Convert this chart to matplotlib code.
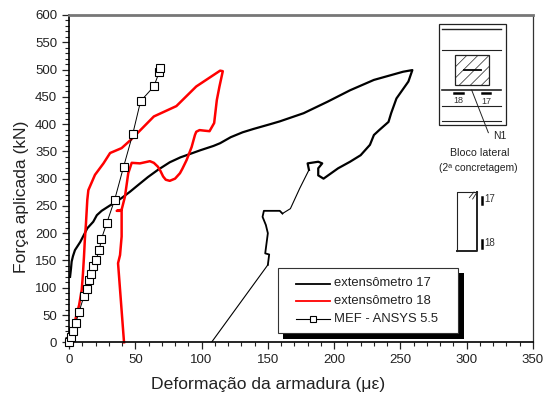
#!/usr/bin/env python3
"""Force x strain curves for gauges 17 and 18 with the FEM result."""
import matplotlib
matplotlib.use("Agg")
import matplotlib.pyplot as plt
from matplotlib.lines import Line2D
from matplotlib.patches import Rectangle
from matplotlib.ticker import MultipleLocator

plt.rcParams['font.family'] = ['Liberation Sans', 'DejaVu Sans']
plt.rcParams['hatch.linewidth'] = 0.5

W, H = 546, 399

# extensometro 17: loading, unloading
ext17_x = [0.8, 1.5, 2, 3, 4.5, 8.5, 13.8, 18.3, 21, 24.6, 31, 34, 40, 46, 52, 59.6, 67, 76, 84, 91,
           99, 109, 114, 122, 131, 139, 152, 159, 177, 195, 212, 230, 252, 259, 256, 247, 243, 241,
           234, 230, 227, 220, 212, 203, 192, 188, 188, 191, 188, 180, 181]
ext17_y = [120, 135, 148, 158, 169, 184, 209, 221, 233, 241, 251, 255, 265, 276, 288, 303, 316, 330,
           339, 345, 352, 360, 365, 376, 385, 391, 400, 405, 420, 441, 462, 481, 496, 499, 478, 447,
           420, 404, 389, 380, 362, 343, 331, 319, 300, 306, 319, 328, 331, 328, 316]
ext17_mid_x = [181, 174, 167, 161]
ext17_mid_y = [316, 282, 245, 236]
ext17_low_x = [161, 159, 147, 146, 148.5, 150, 148, 151, 150]
ext17_low_y = [236, 241, 241, 230, 215, 200, 163, 161, 142]
ext17_end_x = [150, 107.5]
ext17_end_y = [142, 0]

# extensometro 18
ext18_x = [3, 5, 7.6, 9.6, 10.5, 11.3, 12, 12.8, 13.8, 14.6, 19.6, 26, 31, 39.7, 47, 64, 81, 96, 114,
           116, 113.5, 111.5, 109.5, 106, 102, 98.5, 96, 95, 92.5, 88.7, 85.5, 83.7, 80, 76, 73, 71,
           69, 67, 64, 61, 53.5, 47.3, 44.7, 42.2, 39.7, 36, 39.7, 39.7, 38.5, 37, 41.5]
ext18_y = [0, 44, 68, 96, 125, 157, 190, 218, 261, 279, 307, 328, 347, 356, 372, 414, 433, 469, 498,
           497, 469, 444, 402, 387, 388, 389, 386, 380, 358, 334, 318, 310, 300, 296, 298, 304, 314,
           322, 329, 332, 328, 329, 310, 267, 243, 241, 241, 194, 160, 145, 0]

# MEF - ANSYS 5.5
mef_x = [0, 1.5, 3, 5, 7.5, 11.3, 13.3, 15.3, 16.3, 18.3, 20.3, 22.9, 24.4, 28.4, 34.4, 41.2, 48,
         54, 64, 68, 69]
mef_y = [0, 10, 20, 35, 55, 85, 97, 115, 125, 139, 151, 169, 189, 218, 261, 322, 381, 442, 469,
         495, 503]

x_ticks = [0, 50, 100, 150, 200, 250, 300, 350]
y_ticks = [0, 50, 100, 150, 200, 250, 300, 350, 400, 450, 500, 550, 600]

fig = plt.figure(figsize=(W / 100, H / 100), dpi=100)
ax = fig.add_axes([69 / W, 1 - 342.3 / H, (533 - 69) / W, (342.3 - 15) / H])

ax.plot(ext17_x, ext17_y, color='black', lw=1.6)
ax.plot(ext17_mid_x, ext17_mid_y, color='black', lw=0.8)
ax.plot(ext17_low_x, ext17_low_y, color='black', lw=1.3)
ax.plot(ext17_end_x, ext17_end_y, color='black', lw=0.8)
ax.plot(ext18_x, ext18_y, color='red', lw=1.8, clip_on=False)
ax.plot(mef_x, mef_y, color='black', lw=0.7, marker='s', ms=5.4, mfc='white', mec='black',
        mew=0.8, clip_on=False, zorder=5)

ax.set_xlim(0, 350)
ax.set_ylim(0, 600)
ax.set_xticks(x_ticks)
ax.set_yticks(y_ticks)
ax.xaxis.set_minor_locator(MultipleLocator(10))
ax.yaxis.set_minor_locator(MultipleLocator(10))
ax.tick_params(which='major', length=5, width=0.9, labelsize=9.5, pad=3.5, colors='#222222')
ax.tick_params(which='minor', length=3, width=0.8, color='#222222')
ax.set_xlabel('Deformação da armadura (με)', fontsize=12.6, color='#222222')
ax.set_ylabel('Força aplicada (kN)', fontsize=12.6, color='#222222')
ax.xaxis.set_label_coords((268 - 69) / 464, -(384.5 - 342.3) / 327.3, transform=ax.transAxes)
ax.yaxis.set_label_coords(-(69 - 22) / 464, (342.3 - 197) / 327.3, transform=ax.transAxes)
ax.xaxis.label.set_va('center')
ax.yaxis.label.set_va('center')

ax.spines['top'].set_color('#777777')
ax.spines['top'].set_linewidth(2.0)
ax.spines['right'].set_color('#333333')
ax.spines['right'].set_linewidth(0.9)
ax.spines['left'].set_linewidth(1.2)
ax.spines['bottom'].set_linewidth(1.2)

# overlay in image pixels for legend box and the sketches
ov = fig.add_axes([0, 0, 1, 1])
ov.set_xlim(0, W)
ov.set_ylim(H, 0)
ov.axis('off')
ov.patch.set_alpha(0)

# legend
ov.add_patch(Rectangle((283, 273), 181, 66, fc='black', ec='none'))
ov.add_patch(Rectangle((278.3, 268), 179.7, 65, fc='white', ec='#333333', lw=0.8))
legend_rows = [
    (283.5, 'extensômetro 17', dict(color='black', lw=1.3)),
    (301, 'extensômetro 18', dict(color='red', lw=1.3)),
    (319, 'MEF - ANSYS 5.5', dict(color='black', lw=0.8, marker='s', ms=4.6, mfc='white',
                                  mec='black', mew=0.8)),
]
for row_y, label, style in legend_rows:
    if 'marker' in style:
        ov.add_line(Line2D([296, 330], [row_y, row_y], color=style['color'], lw=style['lw']))
        ov.add_line(Line2D([313], [row_y], **style))
    else:
        ov.add_line(Line2D([296, 330], [row_y, row_y], **style))
    ov.text(333.5, row_y, label, fontsize=9.4, va='center', ha='left', color='#222222')


def zx(v):
    return 400 + v / 3


def zy(v):
    return 10 + v / 3


# section sketch
ov.add_patch(Rectangle((zx(118), zy(43)), 66.3, 101, fc='white', ec='#222222', lw=0.9))
for level, lw in [(57, 1.0), (120, 0.8), (240, 1.2), (287, 0.8), (333, 0.8)]:
    ov.add_line(Line2D([zx(126), zx(303)], [zy(level), zy(level)], color='#222222', lw=lw))
ov.add_patch(Rectangle((zx(166), zy(136)), 33.3, 30, fc='white', ec='#222222', lw=0.9,
                       hatch='///'))
ov.add_line(Line2D([zx(192), zx(242)], [zy(180), zy(180)], color='black', lw=1.3))
ov.add_line(Line2D([zx(163), zx(188)], [zy(249), zy(249)], color='black', lw=1.8))
ov.add_line(Line2D([zx(245), zx(270)], [zy(249), zy(249)], color='black', lw=1.8))
ov.add_line(Line2D([zx(215), zx(265)], [zy(240), zy(368)], color='#222222', lw=0.7))
ov.text(zx(175), zy(271), '18', fontsize=6.5, ha='center', va='center', color='#333333')
ov.text(zx(258), zy(273), '17', fontsize=6.5, ha='center', va='center', color='#333333')
ov.text(zx(300), zy(378), 'N1', fontsize=7.5, ha='center', va='center', color='#222222')
ov.text(zx(238), zy(430), 'Bloco lateral', fontsize=7.7, ha='center', va='center', color='#222222')
ov.text(zx(235), zy(473), '(2ª concretagem)', fontsize=7.4,
        ha='center', va='center', color='#222222')

# elevation sketch
ov.add_line(Line2D([zx(172), zx(172), zx(232)], [zy(722), zy(546), zy(546)], color='#222222', lw=0.8))
ov.add_line(Line2D([zx(172), zx(232), zx(232)], [zy(722), zy(722), zy(546)], color='#222222', lw=1.4))
ov.add_line(Line2D([zx(208), zx(222)], [zy(563), zy(546)], color='#222222', lw=0.6))
ov.add_line(Line2D([zx(218), zx(230)], [zy(567), zy(548)], color='#222222', lw=0.6))
ov.add_line(Line2D([zx(245), zx(245)], [zy(562), zy(583)], color='black', lw=1.8))
ov.add_line(Line2D([zx(247), zx(247)], [zy(690), zy(714)], color='black', lw=1.8))
ov.text(zx(270), zy(568), '17', fontsize=7, ha='center', va='center', color='#333333')
ov.text(zx(270), zy(698), '18', fontsize=7, ha='center', va='center', color='#333333')

fig.savefig('out.png', dpi=100)
